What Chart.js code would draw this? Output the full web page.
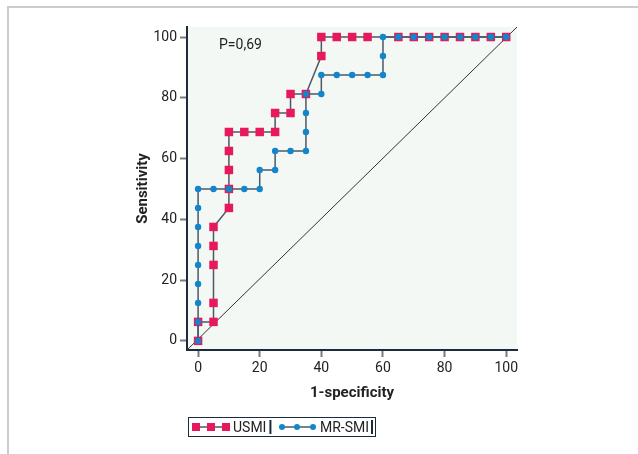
<!DOCTYPE html>
<html>
<head>
<meta charset="utf-8">
<script src="https://cdn.jsdelivr.net/npm/chart.js@4.4.1/dist/chart.umd.min.js"></script>
<style>
  html, body { margin: 0; padding: 0; background: #fff; }
  canvas { display: block; }
</style>
</head>
<body>
<canvas id="rocChart" width="638" height="454"></canvas>
<script>
// ROC curves: x = 1-specificity (%), y = sensitivity (%)
var usmiX = [0, 0, 5, 5, 5, 5, 5, 10, 10, 10, 10, 10, 15, 20, 25, 25, 30, 30, 35, 40, 40, 45, 50, 55, 65, 70, 75, 80, 85, 90, 95, 100];
var usmiY = [0, 6.25, 6.25, 12.5, 25, 31.25, 37.5, 43.75, 50, 56.25, 62.5, 68.75, 68.75, 68.75, 68.75, 75, 75, 81.25, 81.25, 93.75, 100, 100, 100, 100, 100, 100, 100, 100, 100, 100, 100, 100];

var mrX = [0, 0, 0, 0, 0, 0, 0, 0, 0, 5, 10, 15, 20, 20, 25, 25, 30, 35, 35, 35, 35, 40, 40, 45, 50, 55, 60, 60, 60, 65, 70, 75, 80, 85, 90, 95, 100];
var mrY = [0, 6.25, 12.5, 18.75, 25, 31.25, 37.5, 43.75, 50, 50, 50, 50, 50, 56.25, 56.25, 62.5, 62.5, 62.5, 68.75, 75, 81.25, 81.25, 87.5, 87.5, 87.5, 87.5, 87.5, 93.75, 100, 100, 100, 100, 100, 100, 100, 100, 100];

var tickValues = [0, 20, 40, 60, 80, 100];
var xMin = -3.6, xMax = 103.5;
var yMin = -3, yMax = 103.3;
var seriesNames = ["USMI", "MR-SMI"];
var pLabel = "P=0,69";

var RED = "#e8185c";
var BLUE = "#1286cc";
var LINE = "#4a5a66";
var AXIS = "#1c2b39";
var TEXT = "#222222";
var FONT = "Roboto";

function toPoints(xs, ys) {
    return xs.map((x, i) => ({ x: x, y: ys[i] }));
}

const framePlugin = {
    id: "frame",
    beforeDraw(chart) {
        const { ctx, chartArea: a } = chart;
        ctx.save();
        ctx.fillStyle = "#cccccc";
        ctx.fillRect(7, 6, 631, 2);
        ctx.fillRect(7, 6, 2, 448);
        ctx.fillStyle = "#f4f8f5";
        ctx.fillRect(a.left, a.top, a.right - a.left, a.bottom - a.top);
        ctx.restore();
    },
    afterDraw(chart) {
        const { ctx, chartArea: a } = chart;
        ctx.save();
        // p value
        ctx.fillStyle = TEXT;
        ctx.font = "14px " + FONT;
        ctx.textBaseline = "alphabetic";
        ctx.textAlign = "left";
        ctx.fillText(pLabel, a.left + 32, 49);

        // legend box
        const lx = a.left + 1, ly = 417;
        ctx.strokeStyle = AXIS;
        ctx.lineWidth = 1;
        ctx.strokeRect(lx + 0.5, ly + 0.5, 187, 19);
        const cy = ly + 10;

        ctx.strokeStyle = LINE;
        ctx.lineWidth = 1.5;
        ctx.beginPath();
        ctx.moveTo(lx + 8, cy);
        ctx.lineTo(lx + 39, cy);
        ctx.stroke();
        ctx.fillStyle = RED;
        [8, 23, 38].forEach((dx) => ctx.fillRect(lx + dx - 4, cy - 4, 8, 8));
        ctx.fillStyle = TEXT;
        ctx.font = "14px " + FONT;
        ctx.textBaseline = "middle";
        ctx.fillText(seriesNames[0], lx + 45, cy + 1);
        ctx.fillStyle = AXIS;
        ctx.fillRect(lx + 45 + ctx.measureText(seriesNames[0]).width + 3, cy - 7, 2, 14);

        ctx.strokeStyle = LINE;
        ctx.beginPath();
        ctx.moveTo(lx + 94, cy);
        ctx.lineTo(lx + 125, cy);
        ctx.stroke();
        ctx.fillStyle = BLUE;
        [94, 109, 125].forEach((dx) => {
            ctx.beginPath();
            ctx.arc(lx + dx, cy, 3, 0, Math.PI * 2);
            ctx.fill();
        });
        ctx.fillStyle = TEXT;
        ctx.fillText(seriesNames[1], lx + 132, cy + 1);
        ctx.fillStyle = AXIS;
        ctx.fillRect(Math.min(lx + 132 + ctx.measureText(seriesNames[1]).width + 3, lx + 183), cy - 7, 2, 14);
        ctx.restore();
    }
};

const tickOpts = {
    color: TEXT,
    font: { family: FONT, size: 14 },
    padding: 3
};
const gridOpts = {
    drawOnChartArea: false,
    drawTicks: true,
    tickLength: 7,
    tickWidth: 2,
    tickColor: "#6f7e88"
};

var ctx = document.getElementById("rocChart").getContext("2d");
var rocChart = new Chart(ctx, {
    type: "line",
    data: {
        datasets: [
            {
                label: "reference",
                data: [{ x: xMin, y: yMin }, { x: xMax, y: yMax }],
                borderColor: "#333333",
                borderWidth: 1,
                pointRadius: 0,
                order: 3
            },
            {
                label: seriesNames[0],
                data: toPoints(usmiX, usmiY),
                borderColor: LINE,
                borderWidth: 1.5,
                pointStyle: "rect",
                pointRadius: 6,
                pointBorderWidth: 0,
                pointBackgroundColor: RED,
                pointBorderColor: RED,
                order: 2
            },
            {
                label: seriesNames[1],
                data: toPoints(mrX, mrY),
                borderColor: LINE,
                borderWidth: 1.5,
                pointStyle: "circle",
                pointRadius: 3.2,
                pointBorderWidth: 0,
                pointBackgroundColor: BLUE,
                pointBorderColor: BLUE,
                order: 1
            }
        ]
    },
    options: {
        responsive: false,
        animation: false,
        tension: 0,
        layout: { padding: { left: 0, top: 27, right: 121, bottom: 0 } },
        plugins: {
            legend: { display: false },
            tooltip: { enabled: false }
        },
        scales: {
            x: {
                type: "linear",
                min: xMin,
                max: xMax,
                afterBuildTicks: (scale) => { scale.ticks = tickValues.map((v) => ({ value: v })); },
                afterFit: (scale) => { scale.height = 104; },
                ticks: tickOpts,
                grid: gridOpts,
                border: { display: true, color: AXIS, width: 2 },
                title: {
                    display: true,
                    text: "1-specificity",
                    color: TEXT,
                    font: { family: FONT, size: 15, weight: "bold" },
                    padding: { top: 0, bottom: 52 }
                }
            },
            y: {
                type: "linear",
                min: yMin,
                max: yMax,
                afterBuildTicks: (scale) => { scale.ticks = tickValues.map((v) => ({ value: v })); },
                afterFit: (scale) => { scale.width = 187; },
                ticks: tickOpts,
                grid: gridOpts,
                border: { display: true, color: AXIS, width: 2 },
                title: {
                    display: true,
                    text: "Sensitivity",
                    color: TEXT,
                    font: { family: FONT, size: 15, weight: "bold" },
                    padding: { top: 134, bottom: 0 }
                }
            }
        }
    },
    plugins: [framePlugin]
});
</script>
</body>
</html>
